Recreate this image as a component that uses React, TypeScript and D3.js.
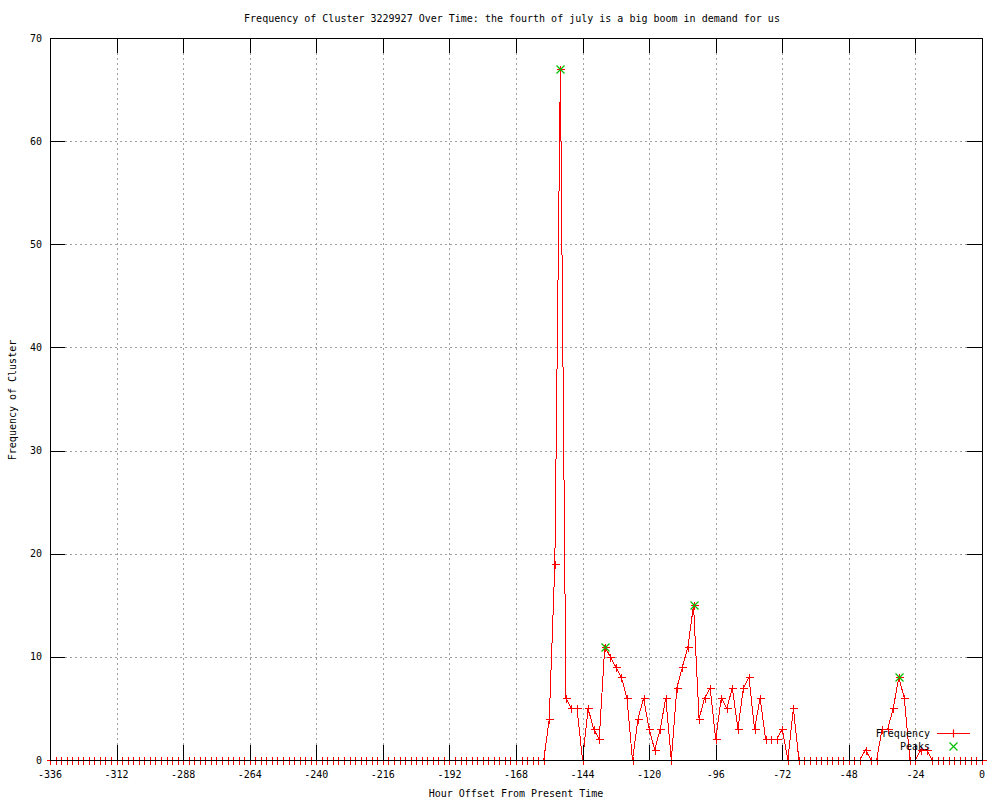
import React from 'react';
import * as d3 from 'd3';

// hours back from now, one sample every 2 hours (-336 .. 0)
const hours: number[] = d3.range(-336, 1, 2);

const frequency: number[] = [
    0, 0, 0, 0, 0, 0, 0, 0, 0, 0,
    0, 0, 0, 0, 0, 0, 0, 0, 0, 0,
    0, 0, 0, 0, 0, 0, 0, 0, 0, 0,
    0, 0, 0, 0, 0, 0, 0, 0, 0, 0,
    0, 0, 0, 0, 0, 0, 0, 0, 0, 0,
    0, 0, 0, 0, 0, 0, 0, 0, 0, 0,
    0, 0, 0, 0, 0, 0, 0, 0, 0, 0,
    0, 0, 0, 0, 0, 0, 0, 0, 0, 0,
    0, 0, 0, 0, 0, 0, 0, 0, 0, 0,
    4, 19, 67, 6, 5, 5, 0, 5, 3, 2,
    11, 10, 9, 8, 6, 0, 4, 6, 3, 1,
    3, 6, 0, 7, 9, 11, 15, 4, 6, 7,
    2, 6, 5, 7, 3, 7, 8, 3, 6, 2,
    2, 2, 3, 0, 5, 0,
    0, 0, 0, 0, 0, 0, 0, 0, 0, 0, 0,
    1, 0, 0, 3, 3, 5, 8, 6, 0, 0, 1, 1, 0,
    0, 0, 0, 0, 0, 0, 0, 0, 0,
];

const peakHours: number[] = [-152, -136, -104, -30];
const peakValues: number[] = [67, 11, 15, 8];

const xTicks: number[] = d3.range(-336, 1, 24);
const yTicks: number[] = d3.range(0, 71, 10);

const TITLE = 'Frequency of Cluster 3229927 Over Time: the fourth of july is a big boom in demand for us';
const FONT = '"DejaVu Sans Mono", monospace';

const W = 1000;
const H = 800;
const left = 50, right = 982, top = 38, bottom = 760;

const App = () => {
    const x = d3.scaleLinear().domain([-336, 0]).range([left, right]);
    const y = d3.scaleLinear().domain([0, 70]).range([bottom, top]);

    const pts = hours.map((h, i) => [x(h), y(frequency[i])] as [number, number]);
    const line = d3.line<[number, number]>().x(d => d[0]).y(d => d[1]);

    const snap = (v: number) => Math.round(v) + 0.5;
    const plus = (cx: number, cy: number, s = 4) => {
        const a = snap(cx), b = snap(cy);
        return `M${a - s},${b}H${a + s}M${a},${b - s}V${b + s}`;
    };
    const cross = (cx: number, cy: number, s = 4) => {
        const a = Math.round(cx) + 0.5, b = Math.round(cy) + 0.5;
        return `M${a - s},${b - s}L${a + s},${b + s}M${a - s},${b + s}L${a + s},${b - s}`;
    };

    const tickLen = 15;

    return (
        <svg width={W} height={H} style={{position: 'absolute', left: 0, top: 0, background: '#fff'}}
             fontFamily={FONT} fontSize={10}>
            <rect width={W} height={H} fill="#fff"/>

            {/* grid */}
            <g stroke="#a0a0a0" strokeWidth={1} strokeDasharray="2,3" shapeRendering="crispEdges">
                {xTicks.filter(t => t > -336 && t < 0).map(t => (
                    <line key={'gx' + t} x1={snap(x(t))} x2={snap(x(t))} y1={top} y2={bottom}/>
                ))}
                {yTicks.filter(t => t > 0 && t < 70).map(t => (
                    <line key={'gy' + t} x1={left} x2={right} y1={snap(y(t))} y2={snap(y(t))}/>
                ))}
            </g>

            {/* frequency series */}
            <g shapeRendering="crispEdges">
                <path d={line(pts) ?? ''} fill="none" stroke="#ff0000" strokeWidth={1}/>
                <path d={pts.map(p => plus(p[0], p[1])).join('')} fill="none" stroke="#ff0000" strokeWidth={1}/>
            </g>

            {/* peaks */}
            <path d={peakHours.map((h, i) => cross(x(h), y(peakValues[i]))).join('')}
                  fill="none" stroke="#00c000" strokeWidth={1.2}/>

            {/* border and ticks */}
            <g stroke="#000" strokeWidth={1} shapeRendering="crispEdges" fill="none">
                <rect x={left + 0.5} y={top + 0.5} width={right - left} height={bottom - top}/>
                {xTicks.map(t => {
                    const px = snap(x(t));
                    return (
                        <g key={'tx' + t}>
                            <line x1={px} x2={px} y1={bottom} y2={bottom - tickLen}/>
                            <line x1={px} x2={px} y1={top} y2={top + tickLen}/>
                        </g>
                    );
                })}
                {yTicks.map(t => {
                    const py = snap(y(t));
                    return (
                        <g key={'ty' + t}>
                            <line x1={left} x2={left + tickLen} y1={py} y2={py}/>
                            <line x1={right} x2={right - tickLen} y1={py} y2={py}/>
                        </g>
                    );
                })}
            </g>

            {/* tick labels */}
            <g fill="#000">
                {xTicks.map(t => (
                    <text key={'lx' + t} x={x(t)} y={778} textAnchor="middle">{String(t)}</text>
                ))}
                {yTicks.map(t => (
                    <text key={'ly' + t} x={42} y={y(t) + 3.5} textAnchor="end">{t}</text>
                ))}
            </g>

            {/* titles */}
            <text x={512} y={22} textAnchor="middle">{TITLE}</text>
            <text x={516} y={797} textAnchor="middle">Hour Offset From Present Time</text>
            <text transform="translate(16,400) rotate(-90)" textAnchor="middle">Frequency of Cluster</text>

            {/* legend */}
            <text x={930} y={737} textAnchor="end">Frequency</text>
            <text x={930} y={750} textAnchor="end">Peaks</text>
            <path d={`M937,733.5H970`} stroke="red" strokeWidth={1.2} fill="none"/>
            <path d={plus(953, 733)} stroke="red" strokeWidth={1.2} fill="none"/>
            <path d={cross(953, 746)} stroke="#00c000" strokeWidth={1.2} fill="none"/>
        </svg>
    );
};

export default App;
